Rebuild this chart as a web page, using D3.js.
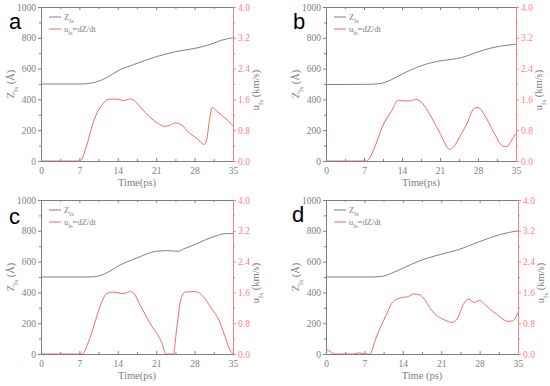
<!DOCTYPE html>
<html>
<head>
<meta charset="utf-8">
<script src="https://cdn.jsdelivr.net/npm/d3@7"></script>
<style>
  body { margin: 0; background: #fff; }
  svg { display: block; font-family: "Liberation Serif", "DejaVu Serif", serif; }
</style>
</head>
<body>
<div id="chart"></div>
<script>
// tick labels
const timeTicks = [0, 7, 14, 21, 28, 35];
const zTicks = [0, 200, 400, 600, 800, 1000];
const uTicks = [0.0, 0.8, 1.6, 2.4, 3.2, 4.0];

// panel a
const tZA = [0, 4, 7, 8, 9, 10.5, 12, 14, 17.5, 21, 24.5, 28, 30, 31.5, 33, 35];
const zA = [500, 500, 500, 501, 505, 518, 542, 585, 634, 677, 710, 731, 748, 765, 785, 800];
const tUA = [0, 7.1, 8.3, 9.2, 10.2, 11.2, 12, 13, 14.2, 15, 16.3, 17.2, 18, 20, 21.3, 22.5, 23.5, 24.5, 25.5, 27, 28.5, 29.7, 30.2, 30.7, 31.2, 32, 33.5, 35];
const uA = [0, 0, 0.39, 0.85, 1.25, 1.47, 1.59, 1.61, 1.6, 1.57, 1.61, 1.55, 1.42, 1.12, 0.98, 0.9, 0.93, 0.99, 0.95, 0.73, 0.58, 0.43, 0.55, 1.05, 1.39, 1.3, 1.12, 0.92];

// panel b
const tZB = [0, 4, 8, 10, 12, 14, 17.5, 21, 23, 25, 28, 30, 32, 35];
const zB = [497, 497, 498, 503, 527, 564, 618, 650, 659, 672, 708, 730, 745, 758];
const tUB = [0, 7.5, 8, 9, 10.5, 12, 13.3, 14.5, 15.5, 16.5, 17.5, 19, 21, 22.8, 23.5, 25, 26, 27.3, 28, 29, 31, 32.5, 33.3, 34, 35];
const uB = [0, 0, 0.07, 0.37, 0.93, 1.28, 1.58, 1.56, 1.56, 1.6, 1.54, 1.24, 0.72, 0.3, 0.37, 0.72, 0.98, 1.37, 1.39, 1.24, 0.72, 0.39, 0.37, 0.5, 0.72];

// panel c
const tZC = [0, 4, 8.5, 10, 12, 14, 17.5, 21, 23, 25, 26, 28, 30, 32, 33.5, 35];
const zC = [500, 500, 500, 503, 527, 570, 624, 667, 671, 667, 682, 710, 742, 768, 781, 782];
const tUC = [0, 7.5, 8.5, 10, 11, 12, 13, 15, 16.3, 17, 18, 20, 22, 22.8, 24.1, 24.8, 25.5, 26.3, 28.3, 29.5, 31, 32.5, 33.5, 34.5, 35];
const uC = [0, 0, 0.26, 0.9, 1.33, 1.57, 1.61, 1.57, 1.62, 1.56, 1.29, 0.77, 0.3, 0, 0, 0.73, 1.42, 1.61, 1.62, 1.5, 1.2, 0.86, 0.47, 0.09, 0];

// panel d
const tZD = [0, 4, 8, 10, 12, 14, 17.5, 21, 24, 26, 28, 30, 32, 35];
const zD = [500, 500, 500, 503, 525, 557, 611, 648, 676, 702, 730, 756, 778, 800];
const tUD = [0, 1, 1.6, 5, 6, 7, 8, 9, 10, 11, 12, 13, 14, 15, 16, 17, 18, 19, 20, 21, 22, 23, 24, 25, 26, 27, 28, 29, 30, 31, 32, 33, 34, 35];
const uD = [0.13, 0.04, 0, 0, 0.03, 0, 0, 0.37, 0.72, 1.02, 1.32, 1.43, 1.47, 1.49, 1.56, 1.54, 1.41, 1.19, 1.02, 0.93, 0.86, 0.82, 0.93, 1.28, 1.43, 1.34, 1.39, 1.28, 1.15, 1.05, 0.93, 0.85, 0.86, 1.08];

const panels = [
  { label: "a", box: [41, 233, 7, 161], labelPos: [9, 29], tz: tZA, z: zA, tu: tUA, u: uA, xTitle: "Time(ps)" },
  { label: "b", box: [326, 516, 7, 161], labelPos: [293, 29], tz: tZB, z: zB, tu: tUB, u: uB, xTitle: "Time(ps)" },
  { label: "c", box: [41, 233, 200, 354], labelPos: [9, 224], tz: tZC, z: zC, tu: tUC, u: uC, xTitle: "Time(ps)" },
  { label: "d", box: [326, 518, 200, 354], labelPos: [292, 222], tz: tZD, z: zD, tu: tUD, u: uD, xTitle: "Time (ps)" }
];

const grey = "#808080";
const red = "#ff6464";
const redAxis = "#ff8080";

const svg = d3.select("#chart").append("svg").attr("width", 550).attr("height", 386);

panels.forEach((p, i) => {
  const [x0, x1, y0, y1] = p.box;
  const x = d3.scaleLinear().domain([0, 35]).range([x0, x1]);
  const yz = d3.scaleLinear().domain([0, 1000]).range([y1, y0]);
  const yu = d3.scaleLinear().domain([0, 4]).range([y1, y0]);
  const g = svg.append("g");

  g.append("clipPath").attr("id", "clip" + i)
    .append("rect").attr("x", x0).attr("y", y0 - 1).attr("width", x1 - x0).attr("height", y1 - y0 + 1);

  const lineZ = d3.line().x((d, k) => x(p.tz[k])).y(d => yz(d)).curve(d3.curveMonotoneX);
  const lineU = d3.line().x((d, k) => x(p.tu[k])).y(d => yu(d)).curve(d3.curveMonotoneX);

  g.append("path").attr("d", lineZ(p.z)).attr("fill", "none").attr("stroke", grey)
    .attr("stroke-width", 1).attr("clip-path", `url(#clip${i})`);
  g.append("path").attr("d", lineU(p.u)).attr("fill", "none").attr("stroke", red)
    .attr("stroke-width", 1).attr("clip-path", `url(#clip${i})`);

  // bottom + top axes (ticks inward)
  g.append("g").attr("transform", `translate(0,${y1})`)
    .call(d3.axisBottom(x).tickValues(timeTicks).tickSize(-3).tickPadding(6).tickFormat(d3.format("d")));
  g.append("g").attr("transform", `translate(0,${y1})`)
    .call(d3.axisBottom(x).tickValues(d3.range(3.5, 35, 7)).tickSize(-2).tickFormat(""));
  g.append("g").attr("transform", `translate(0,${y0})`)
    .call(d3.axisTop(x).tickValues(timeTicks).tickSize(-3).tickFormat(""));
  g.append("g").attr("transform", `translate(0,${y0})`)
    .call(d3.axisTop(x).tickValues(d3.range(3.5, 35, 7)).tickSize(-2).tickFormat(""));

  // left axis (ticks outward)
  g.append("g").attr("transform", `translate(${x0},0)`)
    .call(d3.axisLeft(yz).tickValues(zTicks).tickSize(3).tickPadding(2).tickFormat(d3.format("d")));
  g.append("g").attr("transform", `translate(${x0},0)`)
    .call(d3.axisLeft(yz).tickValues(d3.range(100, 1000, 200)).tickSize(2).tickFormat(""));

  // right axis
  g.append("g").attr("transform", `translate(${x1},0)`)
    .call(d3.axisRight(yu).tickValues(uTicks).tickSize(3).tickPadding(2).tickFormat(d3.format(".1f")))
    .attr("class", "right");
  g.append("g").attr("transform", `translate(${x1},0)`)
    .call(d3.axisRight(yu).tickValues(d3.range(0.4, 4, 0.8)).tickSize(2).tickFormat(""))
    .attr("class", "right");

  g.selectAll(".domain").attr("stroke", grey).attr("stroke-width", 1);
  g.selectAll(".tick line").attr("stroke", grey);
  g.selectAll(".tick text").attr("fill", grey).style("font-size", "9.5px").style("font-family", "Liberation Serif, serif");
  g.selectAll(".right .domain, .right .tick line").attr("stroke", redAxis);
  g.selectAll(".right .tick text").attr("fill", redAxis);

  const cx = (x0 + x1) / 2, cy = (y0 + y1) / 2;

  // x title
  g.append("text").attr("x", cx).attr("y", y1 + 25).attr("text-anchor", "middle")
    .attr("fill", grey).style("font-size", "10.5px").text(p.xTitle);

  // left title
  const lt = g.append("text").attr("transform", `translate(${x0 - 27},${cy}) rotate(-90)`)
    .attr("text-anchor", "middle").attr("fill", grey).style("font-size", "10.5px");
  lt.append("tspan").text("Z");
  lt.append("tspan").attr("baseline-shift", "sub").style("font-size", "7px").text("fs");
  lt.append("tspan").text(" (Å)");

  // right title
  const rt = g.append("text").attr("transform", `translate(${x1 + 26},${cy + 6}) rotate(-90)`)
    .attr("text-anchor", "middle").attr("fill", grey).style("font-size", "10.5px");
  rt.append("tspan").text("u");
  rt.append("tspan").attr("baseline-shift", "sub").style("font-size", "7px").text("fs");
  rt.append("tspan").text(" (km/s)");

  // legend
  const lx = x0 + 8;
  [[grey, "Z", "fs", ""], [red, "u", "fs", "=dZ/dt"]].forEach(([c, a, s, b], k) => {
    const ly = y0 + 10 + k * 12;
    g.append("line").attr("x1", lx).attr("x2", lx + 12).attr("y1", ly).attr("y2", ly)
      .attr("stroke", c).attr("stroke-width", 1);
    const t = g.append("text").attr("x", lx + 15).attr("y", ly + 3).attr("fill", grey).style("font-size", "8.5px");
    t.append("tspan").text(a);
    t.append("tspan").attr("baseline-shift", "sub").style("font-size", "6px").text(s);
    t.append("tspan").text(b);
  });

  // panel letter
  svg.append("text").attr("x", p.labelPos[0]).attr("y", p.labelPos[1])
    .style("font-family", "Liberation Sans, Arial, sans-serif").style("font-size", "22px")
    .attr("fill", "#000").text(p.label);
});
</script>
</body>
</html>
